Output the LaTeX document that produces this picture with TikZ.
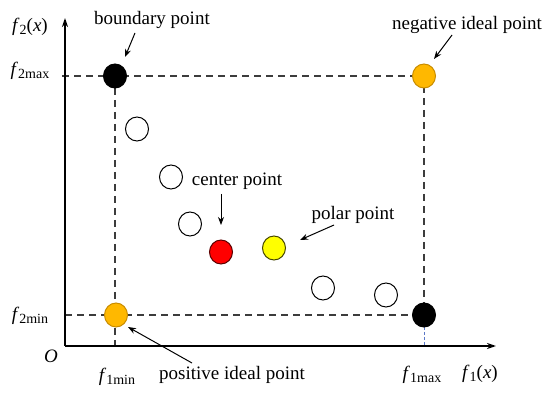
\documentclass[tikz,border=0pt]{standalone}
\usepackage{fontspec}
\setmainfont{Liberation Serif}
\usetikzlibrary{shapes.geometric,arrows.meta}
\newcommand{\fsym}[1]{\textit{f}\raisebox{-0.35ex}{\fontsize{14}{16}\selectfont #1}}
\begin{document}
\begin{tikzpicture}[x=1pt,y=-1pt,
  lbl/.style={inner sep=0pt,font=\fontsize{19}{22}\selectfont},
  pt/.style={ellipse,draw=black,line width=1pt,minimum width=23pt,minimum height=24pt,inner sep=0pt},
  orangept/.style={pt,fill={rgb,255:red,255;green,184;blue,0},draw={rgb,255:red,200;green,140;blue,0}},
  blackpt/.style={pt,fill=black},
  redpt/.style={pt,fill={rgb,255:red,255;green,0;blue,0},draw={rgb,255:red,90;green,0;blue,0}},
  yellowpt/.style={pt,fill={rgb,255:red,255;green,255;blue,0},draw={rgb,255:red,70;green,70;blue,0}},
  guide/.style={dashed,dash pattern=on 7pt off 5pt,line width=1.1pt,draw={rgb,255:red,60;green,60;blue,60}},
  axis/.style={line width=1.4pt,-{Stealth[length=9pt,width=6pt]}},
  arr/.style={line width=1pt,-{Stealth[length=8pt,width=6pt]}}]
\useasboundingbox (0,0) rectangle (550,393);
% axes
\coordinate (O) at (65,346);
\coordinate (ytip) at (65,18);
\coordinate (xtip) at (496,346);
\coordinate (gl) at (62,76);
\coordinate (gb) at (65,315);
\coordinate (fx1) at (115,346);
\coordinate (fx2) at (424,346);
% guide lines
\draw[guide] (gl) -- (424,76) -- (424,315);
\draw[guide] (115,76) -- (fx1);
\draw[guide] (gb) -- (424,315);
\draw[dashed,dash pattern=on 3pt off 2pt,line width=0.6pt,draw={rgb,255:red,90;green,120;blue,200}] (424,327) -- (fx2);
\draw[axis] (O) -- (ytip);
\draw[axis] (O) -- (xtip);
% points
\node[blackpt] (bp) at (115,76) {};
\node[orangept] (np) at (424,76) {};
\node[orangept] (pp) at (116,315) {};
\node[blackpt] (bp2) at (424,315) {};
\node[pt] (h1) at (137,129) {};
\node[pt] (h2) at (171,177) {};
\node[pt] (h3) at (190,224) {};
\node[redpt] (cp) at (221,252) {};
\node[yellowpt] (yp) at (274,248) {};
\node[pt] (h4) at (323,288) {};
\node[pt] (h5) at (386,295) {};
% labels
\node[lbl] (lb) at (152,20) {boundary point};
\node[lbl] (ln) at (467,25) {negative ideal point};
\node[lbl] (lc) at (237,181) {center point};
\node[lbl] (lpo) at (353,215) {polar point};
\node[lbl] (lpi) at (232,375) {positive ideal point};
\node[lbl] (lf2) at (30,27) {\textit{f}\raisebox{-0.35ex}{\fontsize{14}{16}\selectfont 2}(\textit{x})};
\node[lbl] (lf2max) at (30,71) {\fsym{2max}};
\node[lbl] (lf2min) at (30,316) {\fsym{2min}};
\node[lbl] (lO) at (51,356) {\textit{O}};
\node[lbl] (lf1min) at (117,377) {\fsym{1min}};
\node[lbl] (lf1max) at (422,375) {\fsym{1max}};
\node[lbl] (lf1) at (480,374) {\textit{f}\raisebox{-0.35ex}{\fontsize{14}{16}\selectfont 1}(\textit{x})};
% label arrows
\coordinate (ab1) at (135,33); \coordinate (ab2) at (125,57);
\coordinate (an1) at (452,35); \coordinate (an2) at (434,59);
\coordinate (ac1) at (221,194); \coordinate (ac2) at (221,225);
\coordinate (ap1) at (334,225); \coordinate (ap2) at (300,240);
\coordinate (ai1) at (192,363); \coordinate (ai2) at (128,327);
\draw[arr] (ab1) -- (ab2);
\draw[arr] (an1) -- (an2);
\draw[arr] (ac1) -- (ac2);
\draw[arr] (ap1) -- (ap2);
\draw[arr] (ai1) -- (ai2);
\end{tikzpicture}
\end{document}
